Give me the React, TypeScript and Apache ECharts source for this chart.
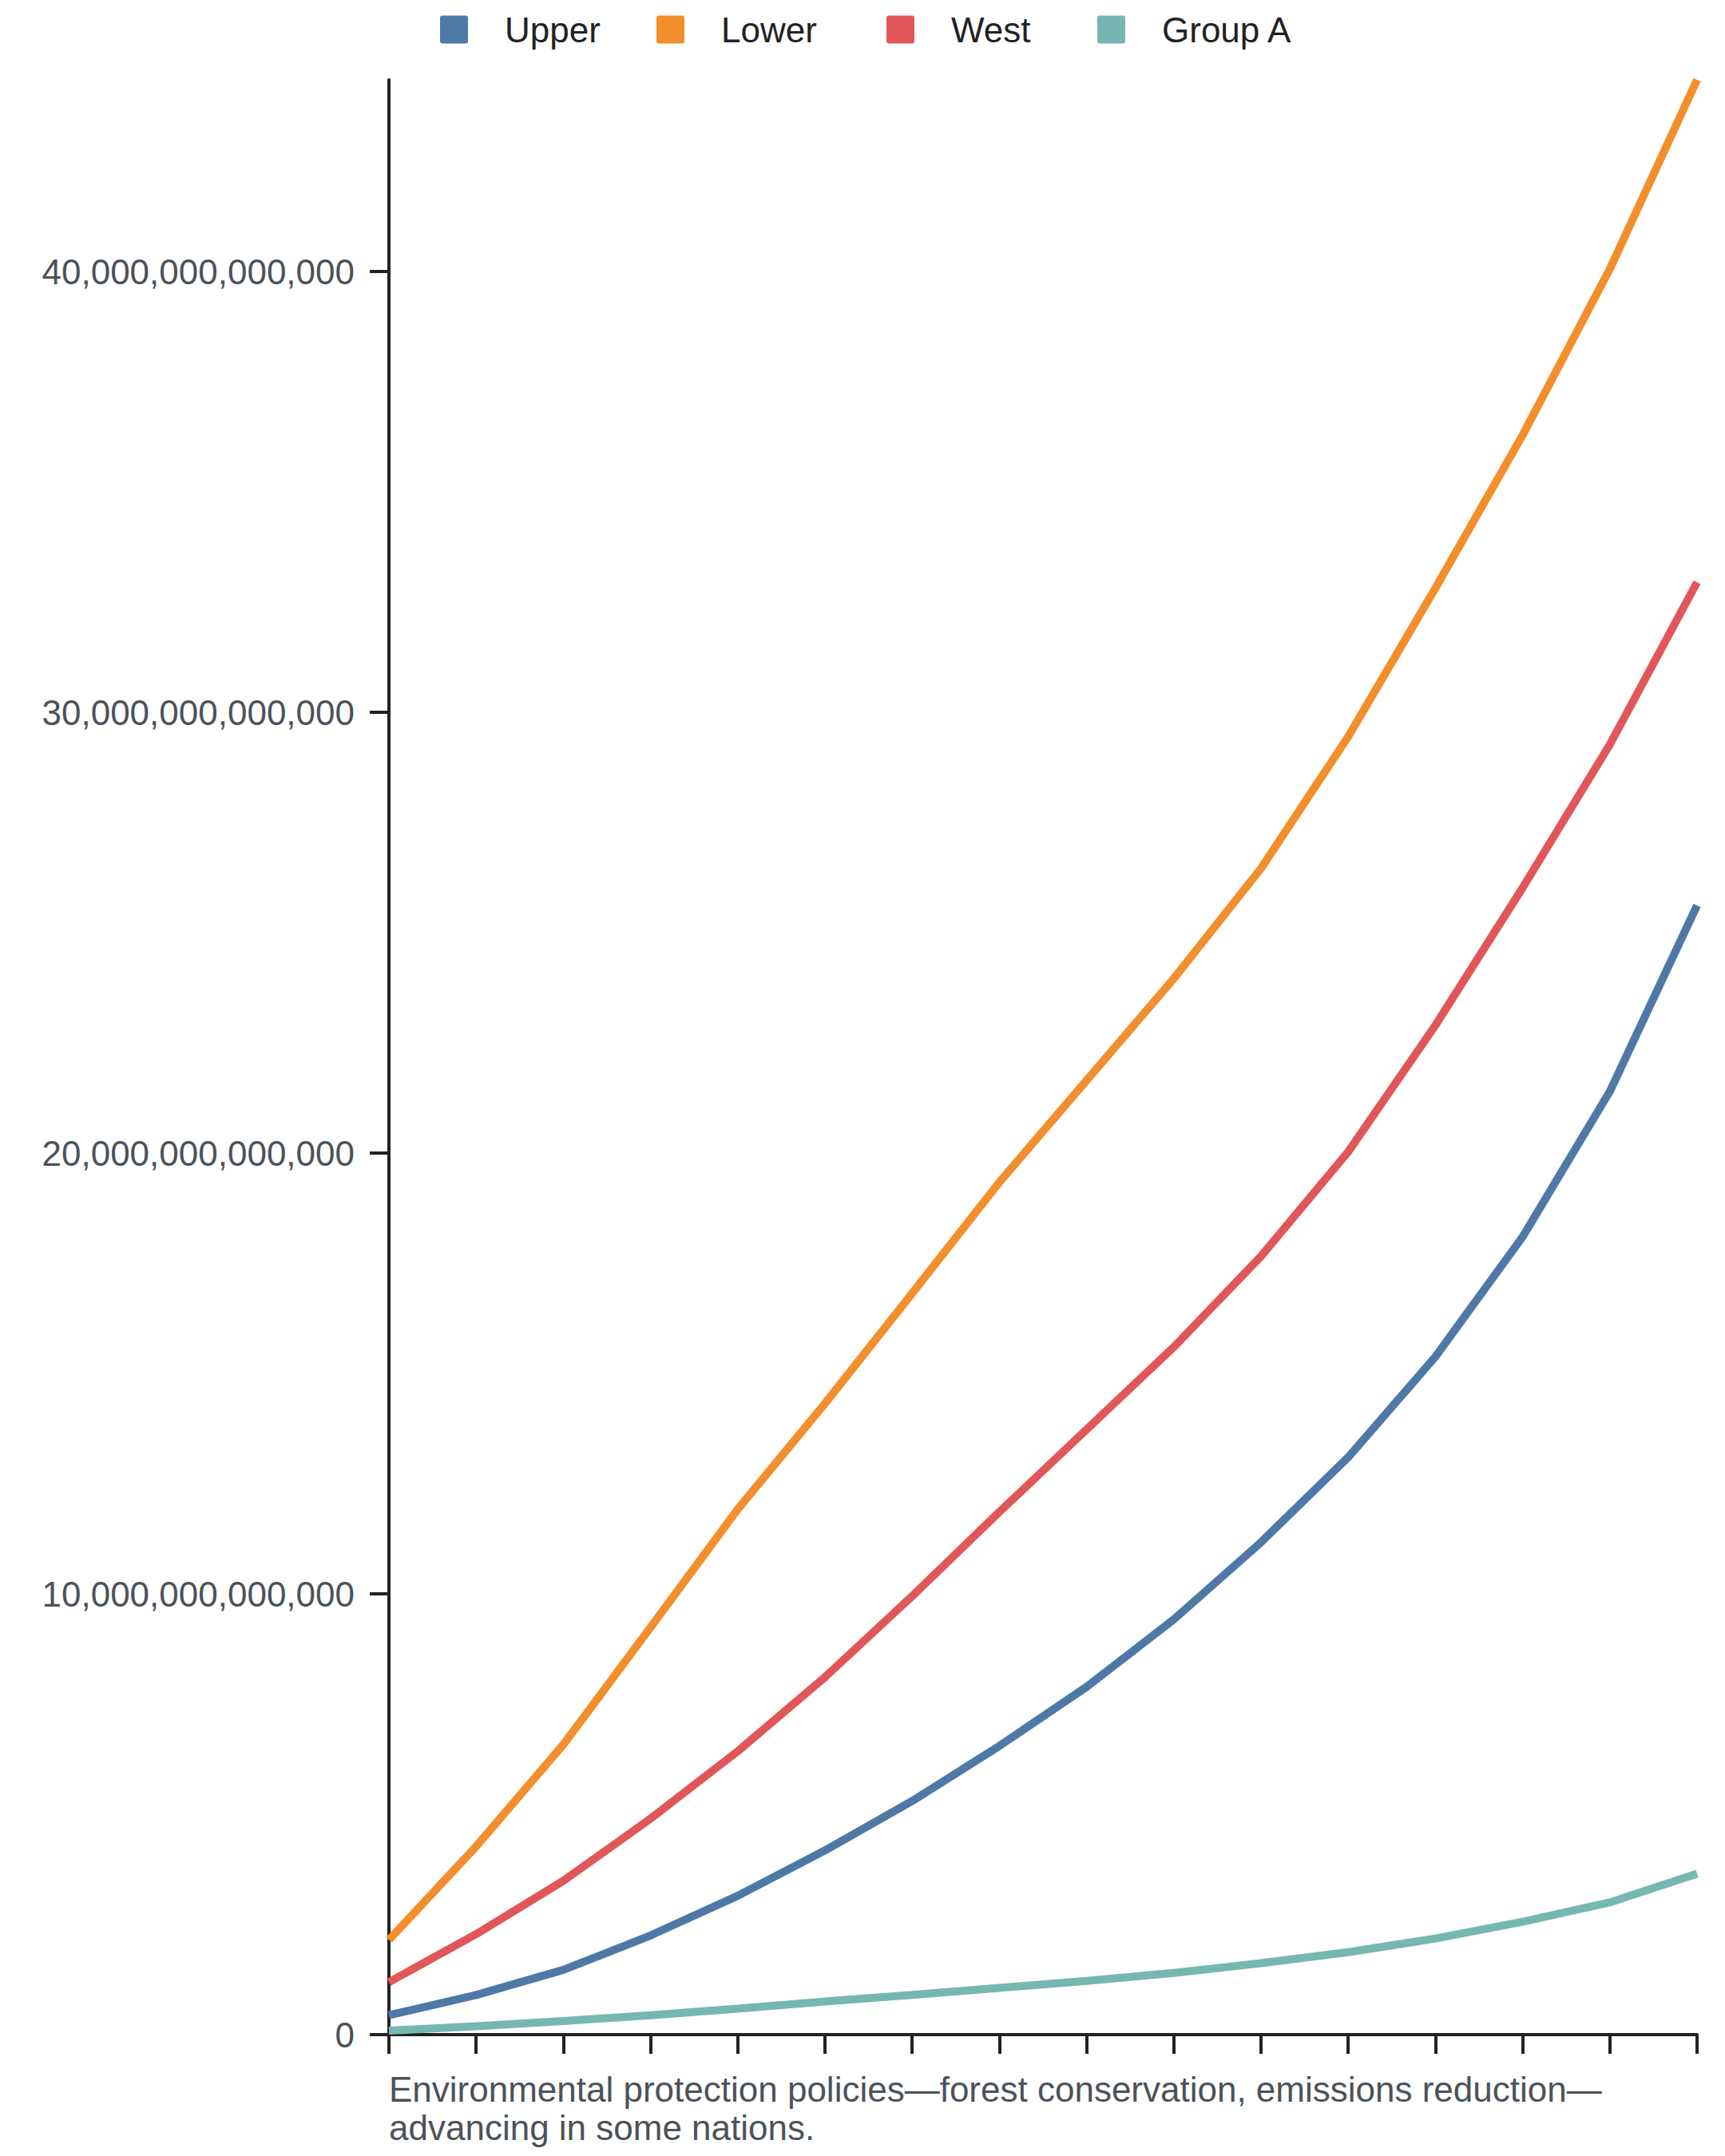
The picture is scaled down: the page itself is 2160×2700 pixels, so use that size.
import React, { useEffect, useRef } from "react";
import * as echarts from "echarts";

const categories = ["P1", "P2", "P3", "P4", "P5", "P6", "P7", "P8", "P9", "P10", "P11", "P12", "P13", "P14", "P15", "P16"];
const seriesNames = ["Upper", "Lower", "West", "Group A"];
const seriesColors = ["#4e79a7", "#f28e2b", "#e15759", "#76b7b2"];

const upper = [0.44e12, 0.9e12, 1.47e12, 2.25e12, 3.15e12, 4.18e12, 5.3e12, 6.55e12, 7.89e12, 9.42e12, 11.17e12, 13.1e12, 15.38e12, 18.1e12, 21.4e12, 25.62e12];
const lower = [2.15e12, 4.27e12, 6.58e12, 9.24e12, 11.92e12, 14.32e12, 16.82e12, 19.34e12, 21.65e12, 23.96e12, 26.46e12, 29.45e12, 32.82e12, 36.29e12, 40.06e12, 44.35e12];
const west = [1.19e12, 2.28e12, 3.49e12, 4.9e12, 6.43e12, 8.11e12, 9.95e12, 11.86e12, 13.73e12, 15.6e12, 17.66e12, 20.03e12, 22.9e12, 26.02e12, 29.27e12, 32.95e12];
const groupA = [0.09e12, 0.19e12, 0.31e12, 0.44e12, 0.59e12, 0.75e12, 0.9e12, 1.06e12, 1.22e12, 1.4e12, 1.62e12, 1.87e12, 2.18e12, 2.56e12, 3.0e12, 3.65e12];

const yTicks = [0, 10e12, 20e12, 30e12, 40e12];
const caption = "Environmental protection policies—forest conservation, emissions reduction—\nadvancing in some nations.";

const FONT = "'Liberation Sans', Arial, Helvetica, sans-serif";
const legendLefts = [546, 817, 1105, 1369];
const ICON = "path://M3,0 H32 Q35,0 35,3 V32 Q35,35 32,35 H3 Q0,35 0,32 V3 Q0,0 3,0 Z";

export default function App() {
  const ref = useRef<HTMLDivElement>(null);
  useEffect(() => {
    const chart = echarts.init(ref.current as HTMLDivElement, null, { renderer: "svg" });
    const allData = [upper, lower, west, groupA];
    const option: any = {
      animation: false,
      backgroundColor: "#ffffff",
      legend: seriesNames.map((name, i) => ({
        data: [name],
        left: legendLefts[i],
        top: 10,
        icon: ICON,
        itemWidth: 35,
        itemHeight: 35,
        selectedMode: false,
        textStyle: { fontSize: 44, color: "#222222", fontFamily: FONT, padding: [0, 0, 0, 41] },
      })),
      grid: { left: 487, right: 35, top: 100, bottom: 152, containLabel: false },
      xAxis: {
        type: "category",
        data: categories,
        boundaryGap: false,
        axisLine: { show: true, lineStyle: { color: "#222222", width: 4 } },
        axisTick: { show: true, length: 24, lineStyle: { color: "#222222", width: 4 } },
        axisLabel: { show: false },
        splitLine: { show: false },
      },
      yAxis: {
        type: "value",
        min: 0,
        max: "dataMax",
        interval: 10e12,
        axisLine: { show: true, lineStyle: { color: "#222222", width: 4 } },
        axisTick: { show: true, length: 24, lineStyle: { color: "#222222", width: 4 }, customValues: yTicks },
        axisLabel: {
          show: true,
          margin: 43,
          fontSize: 44,
          color: "#4b5259",
          fontFamily: FONT,
          customValues: yTicks,
          formatter: (v: number) => Math.round(v).toLocaleString("en-US"),
        },
        splitLine: { show: false },
      },
      graphic: [
        {
          type: "text",
          left: 487,
          top: 2592,
          style: {
            text: caption,
            fontSize: 44,
            lineHeight: 48,
            fill: "#4b5259",
            fontFamily: FONT,
          },
        },
      ],
      series: seriesNames.map((name, i) => ({
        name,
        type: "line",
        data: allData[i],
        showSymbol: false,
        symbol: "none",
        color: seriesColors[i],
        lineStyle: { width: 10, color: seriesColors[i] },
      })),
    };
    chart.setOption(option);
    return () => chart.dispose();
  }, []);
  return <div ref={ref} style={{ position: "absolute", left: 0, top: 0, width: 2160, height: 2700 }} />;
}
